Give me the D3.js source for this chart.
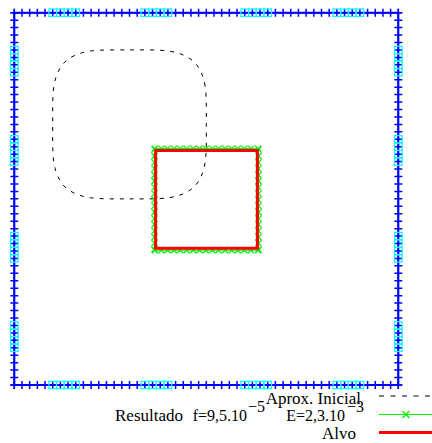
<!DOCTYPE html>
<html><head><meta charset="utf-8">
<script src="https://cdn.jsdelivr.net/npm/d3@7"></script>
<style>
body{margin:0;background:#fff}
svg{display:block}
.lg text{font-family:"Liberation Serif","DejaVu Serif",serif;font-size:17px;fill:#000}
.lg text.sm{font-size:16px}
</style>
</head><body><svg width="432" height="443"></svg>
<script>
// ---------- data ----------
const boundaryTicks = [0.00,0.02,0.04,0.06,0.08,0.10,0.12,0.14,0.16,0.18,0.20,0.22,0.24,0.26,0.28,0.30,0.32,0.34,0.36,0.38,0.40,0.42,0.44,0.46,0.48,0.50,0.52,0.54,0.56,0.58,0.60,0.62,0.64,0.66,0.68,0.70,0.72,0.74,0.76,0.78,0.80,0.82,0.84,0.86,0.88,0.90,0.92,0.94,0.96,0.98,1.00];
const sensorIndex = [5,6,7,8,17,18,19,20,30,31,32,33,42,43,44,45];

const initX = [0.500,0.497,0.486,0.468,0.441,0.402,0.300,0.198,0.159,0.132,0.114,0.103,0.100,0.103,0.114,0.132,0.159,0.198,0.300,0.402,0.441,0.468,0.486,0.497];
const initY = [0.700,0.802,0.841,0.868,0.886,0.897,0.900,0.897,0.886,0.868,0.841,0.802,0.700,0.598,0.559,0.532,0.514,0.503,0.500,0.503,0.514,0.532,0.559,0.598];

const targetX = [0.368,0.633,0.633,0.368];
const targetY = [0.630,0.630,0.367,0.367];

const resultEdgeX = [0.366,0.383,0.399,0.416,0.432,0.449,0.466,0.482,0.499,0.516,0.532,0.549,0.566,0.582,0.599,0.616,0.635];
const resultEdgeY = [0.364,0.381,0.397,0.414,0.431,0.447,0.464,0.481,0.498,0.514,0.531,0.548,0.564,0.581,0.598,0.615,0.633];
const resultSides = {top:0.635, right:0.636, bottom:0.362, left:0.365};

const legendLabels = ["Aprox. Inicial","Resultado","Alvo"];
const resultF = ["f=9,5.10","\u22125"];
const resultE = ["E=2,3.10","\u22123"];

// ---------- chart ----------
const svg = d3.select("svg");
const x = d3.scaleLinear().domain([0,1]).range([14.3,398.3]);
const y = d3.scaleLinear().domain([0,1]).range([385,12.7]);

const bPts = [];
boundaryTicks.forEach(t=>bPts.push({x:t,y:1}));
boundaryTicks.forEach(t=>bPts.push({x:1,y:1-t}));
boundaryTicks.forEach(t=>bPts.push({x:1-t,y:0}));
boundaryTicks.forEach(t=>bPts.push({x:0,y:t}));
const sensors = [];
[0,1,2,3].forEach(s=>sensorIndex.forEach(i=>sensors.push(bPts[s*boundaryTicks.length+i])));

const line = d3.line().x(d=>x(d.x)).y(d=>y(d.y));

// initial approximation
const initPts = initX.map((v,i)=>({x:v,y:initY[i]}));
svg.append("path")
  .attr("d", d3.line().x(d=>x(d.x)).y(d=>y(d.y)).curve(d3.curveCatmullRomClosed)(initPts))
  .attr("fill","none").attr("stroke","#000").attr("stroke-width",1)
  .attr("stroke-dasharray","4,6");

// result
const resPts = [];
resultEdgeX.forEach(v=>resPts.push({x:v,y:resultSides.top}));
resultEdgeY.slice().reverse().forEach(v=>resPts.push({x:resultSides.right,y:v}));
resultEdgeX.slice().reverse().forEach(v=>resPts.push({x:v,y:resultSides.bottom}));
resultEdgeY.forEach(v=>resPts.push({x:resultSides.left,y:v}));
svg.append("path").attr("d", line(resPts)+"Z")
  .attr("fill","none").attr("stroke","#00ee00").attr("stroke-width",1);
svg.append("g").selectAll("path").data(resPts).join("path")
  .attr("transform",d=>`translate(${x(d.x)},${y(d.y)})`)
  .attr("d","M-3,-3L3,3M-3,3L3,-3")
  .attr("stroke","#00ee00").attr("stroke-width",1.2).attr("fill","none");

// target
const tgtPts = targetX.map((v,i)=>({x:v,y:targetY[i]}));
svg.append("path").attr("d", line(tgtPts)+"Z")
  .attr("fill","none").attr("stroke","#ff0000").attr("stroke-width",3);

// boundary
svg.append("path").attr("d", line(bPts)+"Z")
  .attr("fill","none").attr("stroke","#0000ff").attr("stroke-width",2);
svg.append("g").selectAll("path").data(bPts).join("path")
  .attr("transform",d=>`translate(${x(d.x)},${y(d.y)})`)
  .attr("d","M-4,0H4M0,-4V4")
  .attr("stroke","#0000ff").attr("stroke-width",1.5);
svg.append("g").selectAll("rect").data(sensors).join("rect")
  .attr("x",d=>x(d.x)-3.8).attr("y",d=>y(d.y)-3.7)
  .attr("width",7.6).attr("height",7.4)
  .attr("fill","none").attr("stroke","#00ffff").attr("stroke-width",1.2);

// legend
const lg = svg.append("g").attr("class","lg");
lg.append("text").attr("x",361).attr("y",404).attr("text-anchor","end").text(legendLabels[0]);
lg.append("line").attr("x1",379).attr("x2",432).attr("y1",396).attr("y2",396)
  .attr("stroke","#000").attr("stroke-width",1).attr("stroke-dasharray","5,6.5");

lg.append("text").attr("x",115).attr("y",421).text(legendLabels[1]);
lg.append("text").attr("class","sm").attr("x",247).attr("y",421).attr("text-anchor","end").text(resultF[0]);
lg.append("text").attr("class","sm").attr("x",248).attr("y",412).text(resultF[1]);
lg.append("text").attr("class","sm").attr("x",345).attr("y",421).attr("text-anchor","end").text(resultE[0]);
lg.append("text").attr("class","sm").attr("x",347).attr("y",412).text(resultE[1]);
lg.append("line").attr("x1",379).attr("x2",432).attr("y1",414.5).attr("y2",414.5)
  .attr("stroke","#00ee00").attr("stroke-width",1);
lg.append("path").attr("transform","translate(406,414.5)").attr("d","M-3.5,-3.5L3.5,3.5M-3.5,3.5L3.5,-3.5")
  .attr("stroke","#00ee00").attr("stroke-width",1.2);

lg.append("text").attr("x",356).attr("y",439).attr("text-anchor","end").text(legendLabels[2]);
lg.append("line").attr("x1",379).attr("x2",432).attr("y1",432.5).attr("y2",432.5)
  .attr("stroke","#ff0000").attr("stroke-width",3);
</script></body></html>
